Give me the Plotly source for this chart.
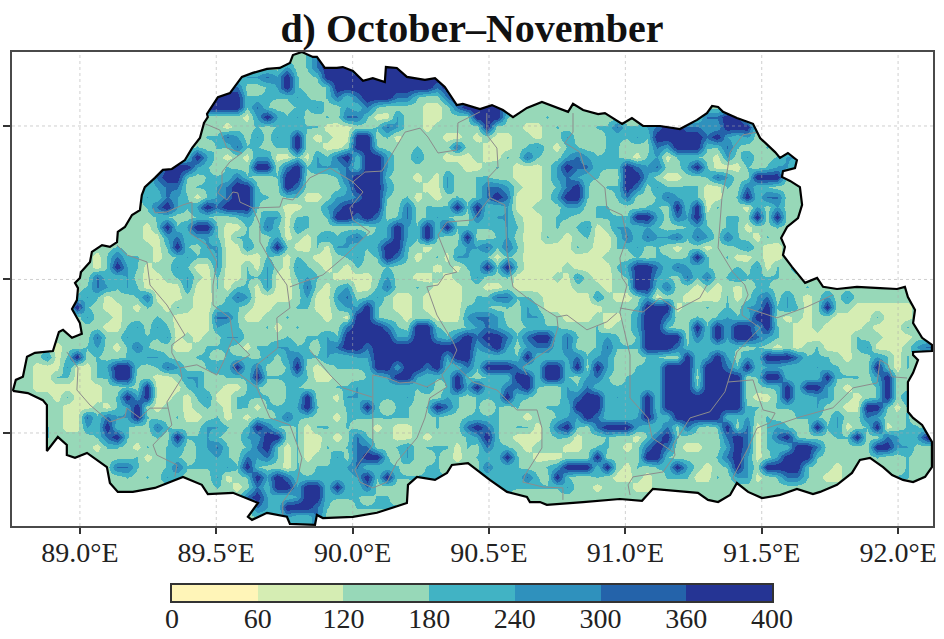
import numpy as np
import plotly.graph_objects as go

title = "d) October–November"
class_colors = ["#FFF5B8", "#D5EDB3", "#97D8B8", "#41B3C4", "#2F91BD", "#2463AA", "#253494"]
class_labels = ["0", "60", "120", "180", "240", "300", "360", "400"]
x_ticks = [89.0, 89.5, 90.0, 90.5, 91.0, 91.5, 92.0]
x_tick_labels = ["89.0°E", "89.5°E", "90.0°E", "90.5°E", "91.0°E", "91.5°E", "92.0°E"]
y_ticks = [27.0, 27.5, 28.0]
# representative level of each class on the colour scale
class_level = [0.5, 1.5, 2.5, 3.1, 4.1, 5.2, 6.9]

# rainfall class of each grid cell, north to south
B = "2222222222"
rows = [
 f"{B} {B} 2222222223 5222222222",
 f"{B} {B} 2222222423 5666222666 6",
 f"{B} {B} 2224454632 3666666666 6666222222",
 f"{B} {B} 6552234632 2366666666 6656622222",
 f"{B} {B} 6663333343 2353566655 3225622222",
 f"{B} 2222222226 6663532233 4224353222 2112566664",
 f"{B} {B} 2221464342 2325531142 2112226663 2223222222 2222222225 5662222222",
 f"{B} {B} 2122323333 3111223542 2122222622 2112322233 5334566554 4666222222",
 f"{B} 2222222223 3542424362 1211662312 2221121211 2212242223 3343666665 6434222222",
 f"{B} 2222222232 3353323362 2112663222 3222522111 2342133223 3222546663 3532232222",
 f"{B} 2222222364 2121441131 4356366422 4221112113 2532245433 3213413332 1424223442",
 f"{B} 2222266643 2322662563 4445366422 2222211232 1112465533 3654522463 1113234422",
 f"{B} 2222566323 3353223662 2235666322 1214223322 1112454332 2664211223 5422666222",
 f"{B} 2223455233 4566322652 2224666422 2114223554 2112356323 3652433331 1325332222",
 f"{B} 2224354313 4566332331 1244566323 1212323565 1112466322 3522354331 1236355222",
 f"{B} 2223564346 5666322112 2456666225 2333636334 1122244233 2223326361 3221424222",
 f"{B} 2222332233 2234244133 2366565235 2343225344 2112332233 3366425462 2332626222",
 f"{B} 2221363466 3113253143 2222223464 3636333334 3112323412 4434322343 2331223222",
 f"{B} 2221145344 3133224121 3434533464 3632262234 2113212311 3535445354 2532132222",
 f"{B} 3222136324 4114236311 3144334663 2122344535 3111113211 3342321221 2234211222",
 f"2222222213 5332123433 4111132132 1123423653 1231443313 2111111112 2232332363 2311211222",
 f"2222222213 6431224311 4113142143 2121322322 2212133636 3111121111 3466535433 2232413242",
 f"2222222253 3421123421 3113341134 3211112422 1121224223 1111214211 2366432535 2343333222",
 f"2222222354 3431111411 3133141125 2134113522 3211122112 1111112221 2266352212 1212332223",
 f"2222223431 2235111211 2354111124 1145234211 2111123355 3321111142 1124122111 1312452421 2424222222",
 f"2222226321 1213213211 3332112233 1134463211 2111133323 2431111112 2236661223 2324463431 2622111111",
 f"2222222422 1222321111 5531122322 2121663221 2211145542 2442211121 1246652232 3433662121 2211113111",
 f"2222222221 1342431111 4332231232 2225666532 6632234543 2333322231 2246632263 6466463211 2111121113",
 f"2222222252 2433341212 2442222323 3436666644 6643565665 3566353234 3236666253 6466543211 1111322111",
 f"2222122342 1353221123 3321334433 2456656666 6666664564 2455352235 3336665333 3332321212 3111341112 45",
 f"2224136232 2334432233 2333242453 3433446666 6664663333 3633345344 2223322634 6424366653 3321224313",
 f"2211141134 6632354223 4363522362 1233336646 6563353666 5336636264 2233366636 6536344333 4332226313",
 f"2211331133 6622112442 2333633343 1122233466 4333632333 6636632453 2333366626 6662366333 3633324622",
 f"2211111112 2326111342 2113322332 2233433333 3423646335 5632243533 3333366636 6662233636 6421223622",
 f"2222131112 3646112134 1133332336 2214433334 2224323336 3322245663 4336366666 6662113633 4422123624",
 f"2222211121 3462122123 2133133346 3223363233 2365323232 3223336663 3336366666 6663323333 4221166313",
 f"2222211535 4463223112 3121323533 2213333333 2232233332 2122344653 3346436666 6334232233 3242254223",
 f"2223211436 3322532224 4323653231 3323221211 2232256532 3312563256 6643352532 3625134322 6341236123 32",
 f"2223222235 6322326334 3224466231 1212532211 2122234632 1112331223 2213563222 2565135632 2233622543 46",
 f"2222222213 3213234234 5323563131 1323552234 2333132533 2122211233 2125652112 2465133366 5222226644",
 f"2222222222 2231233233 4325453131 2242566324 2232123336 3211122262 2226632222 3564124666 3222223223",
 f"2222222222 5532235333 3436322132 3334533332 2332222533 3223466636 2132336421 2364266663 2212232223",
 f"2222222222 2323243222 4123646533 3333463633 3333333333 3532632232 1121233311 3244123553 2112223233",
 f"{B} {B} 3212536646 6363352222 3333333333 3333342212 2211222222",
 f"{B} {B} 2225643346 6333323322 3333333333",
 f"{B} {B} 2222543666 5322333333",
 f"{B} {B} 2222333433 5222222222",
 f"{B} {B} 2222222333 5222222222",
]

outline_lon = [88.754,88.765,88.791,88.806,88.835,88.901,88.923,88.938,88.971,89.007,89.000,88.985,88.971,88.989,88.993,88.982,89.000,89.004,89.037,89.044,89.081,89.110,89.136,89.139,89.165,89.191,89.220,89.227,89.238,89.275,89.304,89.337,89.385,89.411,89.440,89.455,89.469,89.466,89.506,89.550,89.594,89.634,89.686,89.733,89.770,89.781,89.814,89.854,89.869,89.898,89.942,89.964,90.001,90.038,90.074,90.118,90.122,90.162,90.199,90.265,90.302,90.338,90.382,90.404,90.467,90.511,90.551,90.588,90.639,90.694,90.735,90.790,90.808,90.845,90.900,90.925,90.988,91.024,91.065,91.127,91.200,91.263,91.299,91.318,91.340,91.358,91.409,91.468,91.494,91.549,91.567,91.596,91.629,91.622,91.578,91.574,91.604,91.640,91.648,91.633,91.593,91.571,91.585,91.578,91.611,91.659,91.703,91.725,91.776,91.849,91.934,91.996,92.025,92.036,92.062,92.055,92.088,92.124,92.124,92.055,92.055,92.073,92.055,92.036,92.036,92.055,92.088,92.124,92.124,92.099,92.055,92.018,91.978,91.945,91.897,91.860,91.831,91.776,91.714,91.688,91.629,91.567,91.501,91.450,91.409,91.384,91.340,91.303,91.266,91.101,91.061,90.980,90.845,90.712,90.687,90.650,90.639,90.566,90.503,90.423,90.364,90.346,90.302,90.236,90.203,90.199,90.089,90.001,89.891,89.869,89.862,89.807,89.770,89.759,89.686,89.631,89.616,89.653,89.561,89.469,89.447,89.378,89.330,89.275,89.194,89.139,89.110,89.099,89.026,88.982,88.952,88.952,88.919,88.879,88.879,88.864,88.809,88.754]
outline_lat = [27.137,27.173,27.183,27.248,27.261,27.267,27.329,27.336,27.310,27.323,27.358,27.384,27.404,27.433,27.472,27.489,27.505,27.524,27.557,27.590,27.612,27.606,27.622,27.655,27.671,27.710,27.726,27.775,27.801,27.831,27.857,27.860,27.889,27.928,27.961,28.010,28.029,28.039,28.094,28.107,28.160,28.173,28.186,28.189,28.205,28.231,28.241,28.225,28.225,28.189,28.189,28.192,28.179,28.147,28.156,28.143,28.192,28.189,28.160,28.150,28.156,28.127,28.068,28.072,28.055,28.068,28.052,28.029,28.059,28.078,28.065,28.046,28.072,28.052,28.039,28.042,28.007,28.026,28.000,28.000,27.990,28.020,28.042,28.065,28.062,28.046,28.026,28.007,27.961,27.915,27.896,27.912,27.889,27.863,27.853,27.834,27.821,27.801,27.743,27.700,27.671,27.635,27.606,27.580,27.541,27.489,27.505,27.476,27.469,27.476,27.472,27.469,27.476,27.443,27.401,27.358,27.310,27.287,27.267,27.264,27.254,27.238,27.196,27.166,27.069,27.049,27.026,26.971,26.889,26.857,26.840,26.847,26.863,26.889,26.919,26.912,26.870,26.831,26.808,26.801,26.818,26.798,26.788,26.808,26.837,26.798,26.775,26.782,26.805,26.818,26.779,26.785,26.775,26.766,26.775,26.775,26.792,26.808,26.847,26.902,26.896,26.870,26.847,26.857,26.831,26.772,26.740,26.727,26.723,26.733,26.701,26.704,26.704,26.727,26.740,26.717,26.727,26.772,26.805,26.801,26.831,26.857,26.840,26.821,26.808,26.808,26.837,26.889,26.935,26.919,26.928,26.961,26.987,26.941,27.091,27.107,27.130,27.137]

districts = [
 [(89.451,28.010),(89.513,27.987),(89.539,27.928),(89.594,27.912),(89.550,27.883),(89.521,27.850),(89.521,27.808),(89.506,27.782),(89.539,27.759),(89.561,27.785),(89.579,27.782),(89.587,27.752),(89.634,27.733),(89.733,27.736),(89.744,27.765),(89.781,27.759),(89.843,27.831),(89.917,27.863),(90.001,27.818),(90.045,27.850),(90.107,27.853),(90.148,27.915),(90.192,27.980),(90.247,27.993),(90.276,27.964),(90.313,27.912),(90.382,27.922),(90.386,28.010),(90.441,28.036),(90.467,28.046)],
 [(90.492,28.042),(90.492,27.971),(90.529,27.928),(90.533,27.866),(90.496,27.831),(90.503,27.766),(90.558,27.743),(90.566,27.590),(90.588,27.476),(90.650,27.433),(90.749,27.378),(90.753,27.345),(90.731,27.280),(90.624,27.215),(90.639,27.189)],
 [(90.368,27.228),(90.441,27.166),(90.529,27.140),(90.602,27.075),(90.676,27.075),(90.694,27.016),(90.694,26.951),(90.632,26.863),(90.624,26.840),(90.698,26.824),(90.771,26.821),(90.771,26.782)],
 [(90.503,27.766),(90.441,27.694),(90.346,27.687),(90.313,27.645),(90.357,27.547),(90.382,27.524),(90.338,27.515),(90.313,27.482),(90.272,27.476),(90.309,27.384),(90.368,27.297),(90.382,27.270),(90.357,27.222),(90.327,27.189),(90.346,27.150),(90.283,27.114),(90.265,27.049),(90.236,26.984),(90.162,26.906),(90.126,26.840),(90.074,26.821),(90.027,26.840),(90.008,26.880),(90.027,26.906),(90.074,26.961),(90.074,27.189),(90.126,27.179),(90.173,27.163),(90.221,27.166),(90.272,27.150),(90.327,27.179)],
 [(89.843,27.270),(89.917,27.189),(89.964,27.147),(90.071,27.117)],
 [(90.063,27.655),(90.001,27.694),(89.990,27.733),(90.038,27.785),(90.001,27.818)],
 [(90.063,27.655),(89.964,27.570),(89.891,27.515),(89.770,27.476)],
 [(89.634,27.733),(89.660,27.678),(89.660,27.622),(89.708,27.547),(89.759,27.482),(89.770,27.407),(89.722,27.375),(89.726,27.277),(89.649,27.222),(89.649,27.147),(89.697,27.049),(89.770,27.026),(89.814,26.919),(89.796,26.840),(89.744,26.775),(89.744,26.733)],
 [(89.488,27.482),(89.488,27.417),(89.550,27.375),(89.561,27.310),(89.524,27.228),(89.502,27.189),(89.429,27.222),(89.367,27.212),(89.337,27.261),(89.337,27.287),(89.385,27.319),(89.319,27.417),(89.257,27.482),(89.246,27.557),(89.172,27.580),(89.136,27.612)],
 [(89.367,27.212),(89.374,27.179),(89.319,27.101),(89.337,27.026),(89.268,26.961),(89.282,26.928),(89.356,26.896),(89.348,26.857)],
 [(89.323,27.081),(89.257,27.081),(89.220,27.049),(89.172,27.081),(89.165,27.052),(89.110,27.036),(89.037,27.091),(88.989,27.140),(88.993,27.212),(88.952,27.264)],
 [(89.561,27.310),(89.623,27.254),(89.561,27.222),(89.576,27.199),(89.649,27.147)],
 [(89.488,27.482),(89.502,27.557),(89.466,27.612),(89.403,27.651),(89.411,27.678),(89.411,27.752),(89.378,27.743),(89.319,27.720),(89.275,27.717),(89.268,27.733)],
 [(91.483,27.980),(91.431,27.971),(91.384,27.915),(91.373,27.850),(91.354,27.766),(91.347,27.668),(91.340,27.603),(91.394,27.524),(91.438,27.482),(91.450,27.450),(91.428,27.407),(91.428,27.384),(91.494,27.342),(91.409,27.264),(91.376,27.166),(91.365,27.134),(91.310,27.069),(91.237,27.049),(91.175,26.961),(91.182,26.928),(91.138,26.873),(91.028,26.857),(91.010,26.831),(91.017,26.798)],
 [(91.376,27.166),(91.468,27.173),(91.483,27.130),(91.505,27.075),(91.549,27.065),(91.530,27.033),(91.483,27.016),(91.450,26.951),(91.394,26.854),(91.409,26.837)],
 [(91.519,27.016),(91.640,27.052),(91.761,27.082),(91.835,27.147),(91.923,27.163),(91.934,27.238),(91.963,27.222),(91.978,27.183),(92.033,27.179)],
 [(91.761,27.450),(91.666,27.411),(91.556,27.375),(91.446,27.407)],
 [(90.980,27.407),(91.065,27.394),(91.127,27.440),(91.189,27.401),(91.273,27.440),(91.299,27.482)],
 [(90.808,28.042),(90.808,27.980),(90.778,27.945),(90.833,27.915),(90.852,27.857),(90.925,27.798),(90.932,27.733),(90.988,27.710),(91.006,27.635),(90.980,27.570),(90.988,27.505),(91.006,27.482),(90.980,27.394),(91.017,27.254),(91.017,27.114),(91.083,27.049),(91.098,26.984),(91.175,26.938)],
 [(90.749,27.378),(90.786,27.384),(90.859,27.336),(90.932,27.362),(90.969,27.391)],
]

x_range = [88.751, 92.128]
y_range = [26.697, 28.241]

cells = [(r.replace(" ", "") + "2" * 92)[:92] for r in rows]
z = [[class_level[int(c)] for c in r] for r in cells]
lons = np.linspace(88.769, 92.105, 92)
lats = np.linspace(28.225, 26.694, len(cells))

n = len(class_colors)
scale = []
for i, c in enumerate(class_colors):
    scale += [[i / n, c], [(i + 1) / n, c]]

fig = go.Figure()
fig.add_trace(go.Heatmap(x=lons, y=lats, z=z, zmin=0, zmax=n, zsmooth="best", colorscale=scale,
                         showscale=False, hoverinfo="skip"))

# white outside the country: an outer box wound against the outline leaves a hole
box_lon = [88.6, 88.6, 92.3, 92.3, 88.6]
box_lat = [26.5, 28.4, 28.4, 26.5, 26.5]
fig.add_trace(go.Scatter(
    x=box_lon + [None] + outline_lon[::-1], y=box_lat + [None] + outline_lat[::-1],
    mode="lines", line=dict(width=0, color="white"), fill="toself", fillcolor="white", hoverinfo="skip",
))

grid_x, grid_y = [], []
for t in x_ticks:
    grid_x += [t, t, None]
    grid_y += [y_range[0], y_range[1], None]
for t in y_ticks:
    grid_x += [x_range[0], x_range[1], None]
    grid_y += [t, t, None]
fig.add_trace(go.Scatter(x=grid_x, y=grid_y, mode="lines", hoverinfo="skip",
                         line=dict(color="rgba(170,170,170,0.55)", width=1, dash="dot")))

dx, dy = [], []
for seg in districts:
    dx += [p[0] for p in seg] + [None]
    dy += [p[1] for p in seg] + [None]
fig.add_trace(go.Scatter(x=dx, y=dy, mode="lines", hoverinfo="skip",
                         line=dict(color="#8c8c8c", width=1)))
fig.add_trace(go.Scatter(x=outline_lon, y=outline_lat, mode="lines", hoverinfo="skip",
                         line=dict(color="#000000", width=2.2)))

# colour key on its own small axes
fig.add_trace(go.Heatmap(x=[i + 0.5 for i in range(n)], y=[0], z=[[i + 0.5 for i in range(n)]],
                         zmin=0, zmax=n, colorscale=scale, showscale=False, hoverinfo="skip",
                         xaxis="x2", yaxis="y2"))

label_font = dict(family="Liberation Serif", size=28, color="#222222")
fig.update_layout(
    width=944, height=639, margin=dict(l=0, r=0, t=0, b=0, autoexpand=False), showlegend=False,
    paper_bgcolor="white", plot_bgcolor="white",
    title=dict(text=f"<b>{title}</b>", x=472 / 944, xanchor="center", y=(639 - 28) / 639, yanchor="middle",
               font=dict(family="Liberation Serif", size=40, color="#111111")),
    xaxis=dict(domain=[12 / 944, 933 / 944], range=x_range, tickvals=x_ticks, ticktext=x_tick_labels,
               ticks="outside", ticklen=6, tickwidth=1.5, tickcolor="#333333", showgrid=False, zeroline=False,
               showline=True, mirror=True, linecolor="#4a4a4a", linewidth=2, tickfont=label_font,
               ticklabelstandoff=-6),
    yaxis=dict(domain=[113 / 639, 587 / 639], range=y_range, tickvals=y_ticks, ticks="outside", ticklen=7,
               tickwidth=1.5, tickcolor="#333333", showticklabels=False, showgrid=False, zeroline=False,
               showline=True, mirror=True, linecolor="#4a4a4a", linewidth=2),
    xaxis2=dict(domain=[172 / 944, 772 / 944], anchor="y2", range=[0, n], tickvals=list(range(n + 1)),
                ticktext=class_labels, ticks="", showgrid=False, zeroline=False, showline=True, mirror=True,
                linecolor="#333333", linewidth=1.5, tickfont=label_font, ticklabelstandoff=-8),
    yaxis2=dict(domain=[38 / 639, 54 / 639], anchor="x2", range=[-0.5, 0.5], showticklabels=False, ticks="",
                showgrid=False, zeroline=False, showline=True, mirror=True, linecolor="#333333", linewidth=1.5),
)
fig.write_html("out.html", post_script="document.body.style.margin='0';", config={"displayModeBar": False})
